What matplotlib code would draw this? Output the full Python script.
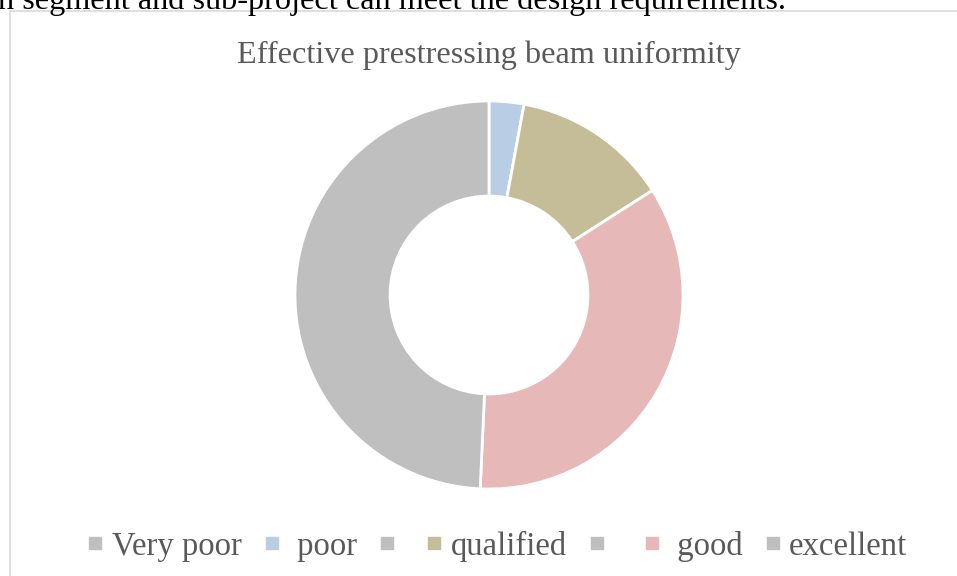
import matplotlib.pyplot as plt
from matplotlib.lines import Line2D
from matplotlib.patches import Rectangle

plt.rcParams['font.family'] = ['Liberation Serif', 'DejaVu Serif']

# данные диаграммы (пустые категории в легенде - нулевые значения)
labels = ['Very poor', ' poor', '', 'qualified', ' ', ' good', 'excellent']
values = [0, 2, 0, 9, 0, 24, 34]
colors = ['#BFBFBF', '#B9CDE5', '#BFBFBF', '#C4BD97', '#BFBFBF', '#E6B9B8', '#BFBFBF']

W, H = 957, 576
fig = plt.figure(figsize=(W / 100, H / 100), dpi=100)

# обрезанная строка текста документа сверху
fig.text(-2 / W, 1 - 9 / H, 'n segment and sub-project can meet the design requirements.',
         fontsize=23.2, color='black', ha='left', va='baseline')

# рамка области диаграммы
fig.patches.append(Rectangle((9.5 / W, -0.1), 1.2, 1 - 11 / H + 0.1,
                             transform=fig.transFigure, fill=False,
                             edgecolor='#D9D9D9', linewidth=1.2))

fig.text(489 / W, 1 - 63 / H, 'Effective prestressing beam uniformity',
         fontsize=23.2, color='#595959', ha='center', va='baseline')

cx, cy, r = 489, 295, 194
ax = fig.add_axes([(cx - r) / W, (H - cy - r) / H, 2 * r / W, 2 * r / H])
ax.pie(values, colors=colors, startangle=90, counterclock=False, radius=1,
       wedgeprops=dict(width=0.49, edgecolor='white', linewidth=2))
ax.set_xlim(-1, 1)
ax.set_ylim(-1, 1)
ax.axis('off')

handles = [Line2D([], [], marker='s', linestyle='none', markersize=8.5,
                  markerfacecolor=c, markeredgecolor=c) for c in colors]
fig.legend(handles, labels, loc='center', bbox_to_anchor=(496.5 / W, 1 - 546 / H),
           ncol=7, frameon=False, fontsize=23.6, labelcolor='#595959',
           handlelength=0.6, handletextpad=0.2, columnspacing=0.63,
           borderpad=0, borderaxespad=0)

fig.savefig('out.png', dpi=100)
